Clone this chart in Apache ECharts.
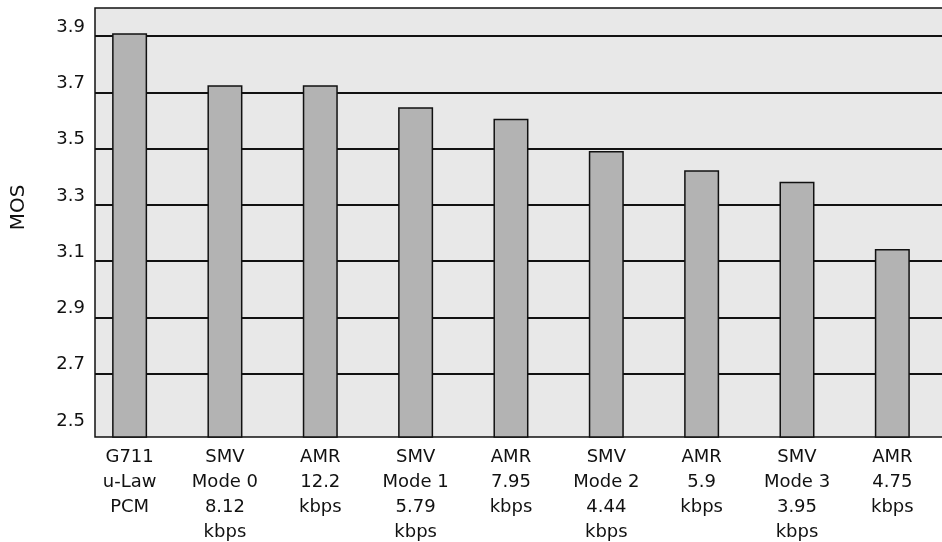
<!DOCTYPE html>
<html>
<head>
<meta charset="utf-8">
<title>MOS by codec</title>
<script src="https://cdn.jsdelivr.net/npm/echarts@6/dist/echarts.min.js"></script>
<style>
  html, body { margin: 0; padding: 0; background: #fff; }
  #chart { width: 942px; height: 542px; }
</style>
</head>
<body>
<div id="chart"></div>
<script>
// Codec names (one per bar), drawn as multi-line axis labels
const codecs = [
  'G711\nu-Law\nPCM',
  'SMV\nMode 0\n8.12\nkbps',
  'AMR\n12.2\nkbps',
  'SMV\nMode 1\n5.79\nkbps',
  'AMR\n7.95\nkbps',
  'SMV\nMode 2\n4.44\nkbps',
  'AMR\n5.9\nkbps',
  'SMV\nMode 3\n3.95\nkbps',
  'AMR\n4.75\nkbps'
];

// Mean opinion score per codec
const mos = [3.91, 3.725, 3.725, 3.647, 3.606, 3.492, 3.423, 3.382, 3.143];

// Y tick labels and horizontal rule values
const yLabelValues = [2.5, 2.7, 2.9, 3.1, 3.3, 3.5, 3.7, 3.9];
const gridValues = [2.7, 2.9, 3.1, 3.3, 3.5, 3.7, 3.9];

const positions = codecs.map((_, i) => i);
const barData = mos.map((v, i) => [positions[i], v]);

const font = 'DejaVu Sans, Liberation Sans, Arial, sans-serif';

const chart = echarts.init(document.getElementById('chart'), null, { renderer: 'canvas' });
chart.setOption({
  animation: false,
  backgroundColor: '#ffffff',
  grid: {
    left: 95,
    top: 8,
    right: -2,
    bottom: 105,
    outerBoundsMode: 'none',
    containLabel: false,
    show: true,
    backgroundColor: '#e8e8e8',
    borderColor: '#111111',
    borderWidth: 1.5
  },
  xAxis: {
    type: 'value',
    min: -0.363,
    max: 8.542,
    axisLine: { show: false },
    axisTick: { show: false },
    splitLine: { show: false },
    axisLabel: {
      customValues: positions,
      formatter: (v) => codecs[Math.round(v)],
      color: '#111',
      fontFamily: font,
      fontSize: 18,
      lineHeight: 25,
      margin: 8
    }
  },
  yAxis: {
    type: 'value',
    min: 2.475,
    max: 4.0,
    name: 'MOS',
    nameLocation: 'middle',
    nameGap: 66,
    nameTextStyle: {
      color: '#111',
      fontFamily: font,
      fontSize: 20,
      padding: [0, 0, 0, 30]
    },
    axisLine: { show: false },
    axisTick: { show: false, customValues: gridValues },
    splitLine: {
      show: true,
      lineStyle: { color: '#111111', width: 2 }
    },
    axisLabel: {
      customValues: yLabelValues,
      formatter: (v) => v.toFixed(1),
      color: '#111',
      fontFamily: font,
      fontSize: 18,
      margin: 10,
      verticalAlign: 'bottom'
    }
  },
  series: [{
    type: 'bar',
    data: barData,
    barWidth: 35,
    itemStyle: {
      color: '#b3b3b3',
      borderColor: '#111111',
      borderWidth: 1.5
    }
  }]
});
</script>
</body>
</html>
